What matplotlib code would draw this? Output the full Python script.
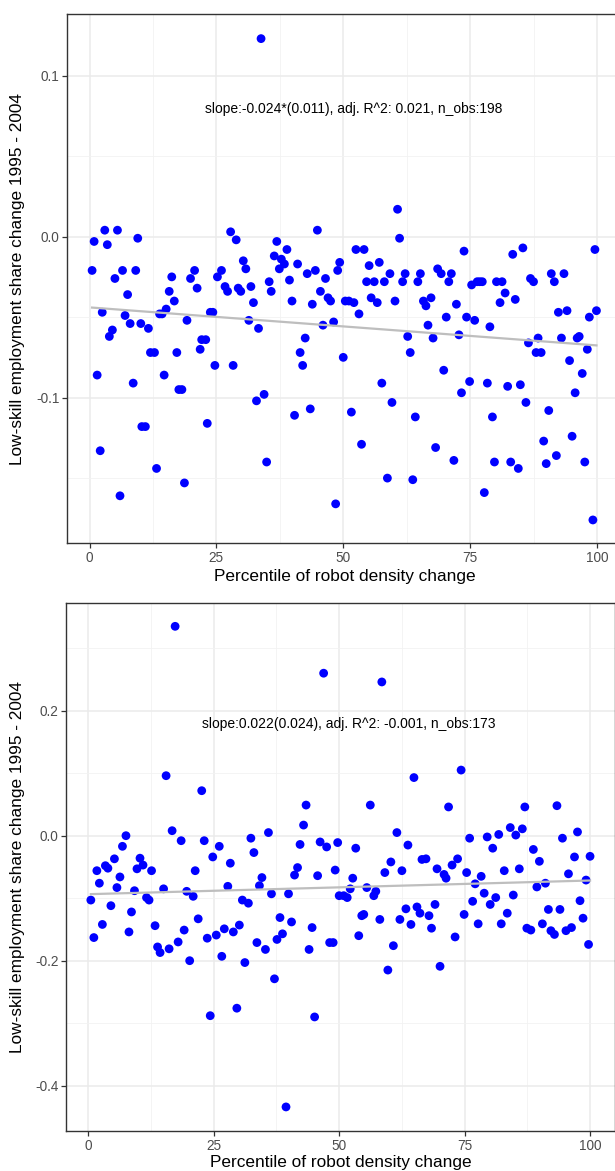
import numpy as np
import matplotlib.pyplot as plt

plt.rcParams["font.family"] = ["Liberation Sans", "DejaVu Sans"]
plt.rcParams["axes.unicode_minus"] = False

# upper panel: 1995-2004 low-skill share change vs robot density percentile
top_x = [0.5, 0.9, 1.5, 2.1, 2.5, 3.0, 3.5, 3.9, 4.5, 5.0, 5.5, 6.0, 6.5, 7.0, 7.5, 8.0,
         8.6, 9.1, 9.5, 10.1, 10.3, 11.0, 11.6, 12.0, 12.8, 13.2, 13.8, 14.3, 15.1, 14.7,
         15.7, 16.2, 16.7, 17.2, 17.6, 18.2, 18.7, 19.2, 19.9, 20.7, 21.2, 21.8, 22.1, 22.9,
         23.2, 23.8, 24.3, 24.7, 25.2, 26.0, 26.7, 27.2, 27.8, 28.3, 28.9, 29.3, 29.8, 30.3,
         30.8, 31.4, 31.8, 32.3, 32.9, 33.3, 33.8, 34.4, 34.9, 35.4, 35.8, 36.4, 36.9, 37.4,
         37.8, 38.4, 38.9, 39.4, 39.9, 40.4, 41.0, 41.5, 42.0, 42.5, 42.9, 43.5, 43.9, 44.5,
         44.9, 45.5, 46.0, 46.5, 47.0, 47.5, 48.1, 48.5, 48.9, 49.3,
         50.0, 50.4, 51.1, 51.6, 52.1, 52.5, 53.1, 53.6, 54.1, 54.6, 55.1, 55.5, 56.1, 56.7,
         57.1, 57.6, 58.1, 58.7, 59.2, 59.6, 60.2, 60.7, 61.1, 61.7, 62.2, 62.7, 63.2, 63.7,
         64.2, 64.7, 65.2, 65.8, 66.3, 66.7, 67.3, 67.7, 68.2, 68.6, 69.3, 69.8, 70.3, 70.8,
         71.3, 71.8, 72.3, 72.8, 73.3, 73.8, 74.3, 74.9, 75.3, 75.9, 76.4, 76.9, 77.4, 77.8,
         78.4, 78.9, 79.4, 79.8, 80.2, 80.9, 81.3, 81.9, 82.4, 83.0, 83.4, 83.9, 84.5, 84.9,
         85.4, 86.0, 86.5, 86.9, 87.5, 88.0, 88.4, 89.0, 89.5, 90.0, 90.5, 91.0, 91.6, 92.0,
         92.4, 93.0, 93.5, 94.1, 94.6, 95.1, 95.7, 96.1, 96.5, 97.1, 97.6, 98.1, 98.5, 99.2,
         99.6, 99.9]
top_y = [-0.021, -0.003, -0.086, -0.133, -0.047, 0.004, -0.005, -0.062, -0.058, -0.026,
         0.004, -0.161, -0.021, -0.049, -0.036, -0.054, -0.091, -0.021, -0.001, -0.054,
         -0.118, -0.118, -0.057, -0.072, -0.072, -0.144, -0.048, -0.048, -0.045, -0.086,
         -0.034, -0.025, -0.040, -0.072, -0.095, -0.095, -0.153, -0.052, -0.026, -0.021,
         -0.032, -0.070, -0.064, -0.064, -0.116, -0.047, -0.047, -0.080, -0.025, -0.021,
         -0.031, -0.034, 0.003, -0.080, -0.002, -0.032, -0.034, -0.015, -0.020, -0.052,
         -0.031, -0.041, -0.102, -0.057, 0.123, -0.098, -0.140, -0.028, -0.034, -0.012,
         -0.003, -0.020, -0.014, -0.017, -0.008, -0.027, -0.040, -0.111, -0.017, -0.072,
         -0.080, -0.063, -0.023, -0.107, -0.042, -0.021, 0.004, -0.034, -0.055, -0.026,
         -0.038, -0.040, -0.053, -0.166, -0.021, -0.016,
         -0.075, -0.040, -0.040, -0.109, -0.041, -0.008, -0.048, -0.129, -0.008, -0.028,
         -0.018, -0.038, -0.028, -0.041, -0.016, -0.091, -0.028, -0.150, -0.023, -0.103,
         -0.040, 0.017, -0.001, -0.028, -0.023, -0.062, -0.072, -0.151, -0.112, -0.028,
         -0.023, -0.040, -0.043, -0.055, -0.038, -0.063, -0.131, -0.020, -0.023, -0.083,
         -0.050, -0.028, -0.023, -0.139, -0.042, -0.061, -0.097, -0.009, -0.050, -0.090,
         -0.030, -0.052, -0.028, -0.028, -0.028, -0.159, -0.091, -0.056, -0.112, -0.140,
         -0.028, -0.041, -0.028, -0.035, -0.093, -0.140, -0.011, -0.039, -0.144, -0.092,
         -0.007, -0.103, -0.066, -0.026, -0.028, -0.072, -0.063, -0.072, -0.127, -0.141,
         -0.108, -0.023, -0.028, -0.136, -0.047, -0.063, -0.023, -0.046, -0.077, -0.124,
         -0.097, -0.063, -0.062, -0.085, -0.140, -0.070, -0.050, -0.176, -0.008, -0.046]

# lower panel
bot_x = [0.5, 1.1, 1.7, 2.2, 2.8, 3.4, 3.9, 4.5, 5.2, 5.7, 6.3, 6.8, 7.5, 8.1, 8.6, 9.2,
         9.7, 10.3, 10.9, 11.6, 12.1, 12.6, 13.3, 13.8, 14.3, 15.0, 15.5, 16.1, 16.7, 17.3,
         17.9, 18.5, 19.1, 19.6, 20.2, 20.9, 21.3, 21.9, 22.6, 23.1, 23.7, 24.3, 24.8, 25.5,
         26.1, 26.6, 27.1, 27.8, 28.3, 28.9, 29.6, 30.1, 30.7, 31.2, 31.9, 32.4, 33.0, 33.6,
         34.1, 34.6, 35.3, 35.9, 36.5, 37.1, 37.6, 38.2, 38.7, 39.4, 39.9, 40.5, 41.1, 41.7,
         42.2, 42.9, 43.4, 44.0, 44.6, 45.1, 45.7, 46.2, 46.9, 47.5, 48.1, 48.8, 49.2, 49.7,
         50.0, 50.9, 51.6, 52.2, 52.7, 53.3, 53.9, 54.5, 54.9, 55.5, 56.2, 56.9, 57.3, 58.1,
         58.5, 59.1, 59.7, 60.3, 60.8, 61.5, 62.1, 62.5, 63.3, 63.7, 64.3, 64.9, 65.5, 66.1,
         66.5, 67.3, 67.9, 68.4, 69.1, 69.5, 70.1, 70.9, 71.3, 71.8, 72.5, 73.1, 73.6, 74.3,
         74.9, 75.4, 76.0, 76.6, 77.1, 77.7, 78.3, 78.9, 79.5, 80.1, 80.6, 81.2, 81.8, 82.3,
         82.9, 83.5, 84.1, 84.7, 85.2, 85.9, 86.5, 87.0, 87.4, 88.2, 88.7, 89.4, 89.9, 90.5,
         91.1, 91.7, 92.2, 92.9, 93.4, 94.0, 94.5, 95.2, 95.7, 96.3, 96.9, 97.5, 98.0, 98.6,
         99.2, 99.7, 100.0]
bot_y = [-0.103, -0.163, -0.056, -0.076, -0.142, -0.048, -0.052, -0.112, -0.037, -0.083,
         -0.066, -0.017, 0.000, -0.154, -0.122, -0.088, -0.053, -0.036, -0.047, -0.099,
         -0.103, -0.056, -0.144, -0.178, -0.187, -0.085, 0.096, -0.181, 0.008, 0.335,
         -0.170, -0.008, -0.151, -0.089, -0.200, -0.097, -0.056, -0.133, 0.072, -0.008,
         -0.164, -0.288, -0.034, -0.159, -0.017, -0.193, -0.149, -0.081, -0.044, -0.154,
         -0.276, -0.143, -0.103, -0.203, -0.108, -0.004, -0.027, -0.171, -0.080, -0.067,
         -0.182, 0.005, -0.093, -0.229, -0.166, -0.131, -0.157, -0.434, -0.093, -0.138,
         -0.063, -0.051, -0.014, 0.017, 0.049, -0.182, -0.147, -0.290, -0.064, -0.010,
         0.260, -0.018, -0.171, -0.171, -0.055, -0.011,
         -0.096, -0.096, -0.099, -0.085, -0.068, -0.020, -0.160, -0.128, -0.126, -0.083,
         0.049, -0.096, -0.089, -0.134, 0.246, -0.059, -0.215, -0.042, -0.176, 0.005,
         -0.134, -0.056, -0.117, -0.015, -0.142, 0.093, -0.114, -0.124, -0.038, -0.037,
         -0.128, -0.148, -0.110, -0.053, -0.209, -0.062, -0.068, 0.046, -0.047, -0.162,
         -0.037, 0.105, -0.126, -0.059, -0.004, -0.105, -0.077, -0.141, -0.065, -0.092,
         -0.002, -0.110, -0.020, -0.099, 0.002, -0.141, -0.056, -0.124, 0.013, -0.095,
         0.001, -0.053, 0.011, 0.046, -0.148, -0.151, -0.022, -0.082, -0.041, -0.141,
         -0.076, -0.118, -0.152, -0.158, 0.048, -0.118, -0.004, -0.152, -0.061, -0.147,
         -0.034, 0.006, -0.104, -0.132, -0.071, -0.174, -0.033]

top_note = "slope:-0.024*(0.011), adj. R^2: 0.021, n_obs:198"
bot_note = "slope:0.022(0.024), adj. R^2: -0.001, n_obs:173"
x_ticks = [0, 25, 50, 75, 100]
top_yticks = [-0.1, 0.0, 0.1]
bot_yticks = [-0.4, -0.2, 0.0, 0.2]
xlab = "Percentile of robot density change"
ylab = "Low-skill employment share change 1995 - 2004"


def panel(ax, xs, ys, xlim, yticks, ylim, note, note_y):
    xs = np.array(xs)
    ys = np.array(ys)
    step = yticks[1] - yticks[0]
    ax.set_xticks(x_ticks)
    ax.set_xticklabels([str(t) for t in x_ticks])
    ax.set_yticks(yticks)
    ax.set_yticklabels(["%.1f" % t for t in yticks])
    xminor = [t + 12.5 for t in [-25] + x_ticks]
    yminor = [t + step / 2 for t in [yticks[0] - step] + yticks]
    ax.set_xticks([t for t in xminor if xlim[0] < t < xlim[1]], minor=True)
    ax.set_yticks([t for t in yminor if ylim[0] < t < ylim[1]], minor=True)
    ax.set_xlim(*xlim)
    ax.set_ylim(*ylim)
    ax.grid(True, which="major", color="#EBEBEB", lw=1.1)
    ax.grid(True, which="minor", color="#F2F2F2", lw=0.6)
    ax.set_axisbelow(True)
    ax.tick_params(which="minor", length=0)
    ax.tick_params(which="major", length=3.5, width=0.9, color="#333333",
                   labelcolor="#4D4D4D", labelsize=9.8, pad=2)
    for s in ax.spines.values():
        s.set_color("#333333")
        s.set_linewidth(1.0)

    ax.scatter(xs, ys, s=40, color="#0000FF", edgecolors="none", zorder=2)
    # lm fit line
    k, b = np.polyfit(xs, ys, 1)
    lx = np.array([xs.min(), xs.max()])
    ax.plot(lx, k * lx + b, color="#BEBEBE", lw=1.6, zorder=3)

    ax.text(52, note_y, note, ha="center", va="center", fontsize=10, color="black")
    ax.set_xlabel(xlab, fontsize=12.4, color="black")
    ax.set_ylabel(ylab, fontsize=12.4, color="black")


fig = plt.figure(figsize=(6.15, 11.71), dpi=100)
ax1 = fig.add_axes([0.1089, 0.53604, 0.9026, 0.45201])
panel(ax1, top_x, top_y, (-4.45, 104.95), top_yticks, (-0.1905, 0.1383), top_note, 0.079)
ax1.xaxis.set_label_coords(0.5, -0.0486)
ax1.yaxis.set_label_coords(-0.0757, 0.5)

ax2 = fig.add_axes([0.10732, 0.03416, 0.8929, 0.45115])
panel(ax2, bot_x, bot_y, (-4.45, 105.0), bot_yticks, (-0.4725, 0.3728), bot_note, 0.178)
ax2.xaxis.set_label_coords(0.5, -0.045)
ax2.yaxis.set_label_coords(-0.0747, 0.5)

fig.savefig("out.png", dpi=100)
